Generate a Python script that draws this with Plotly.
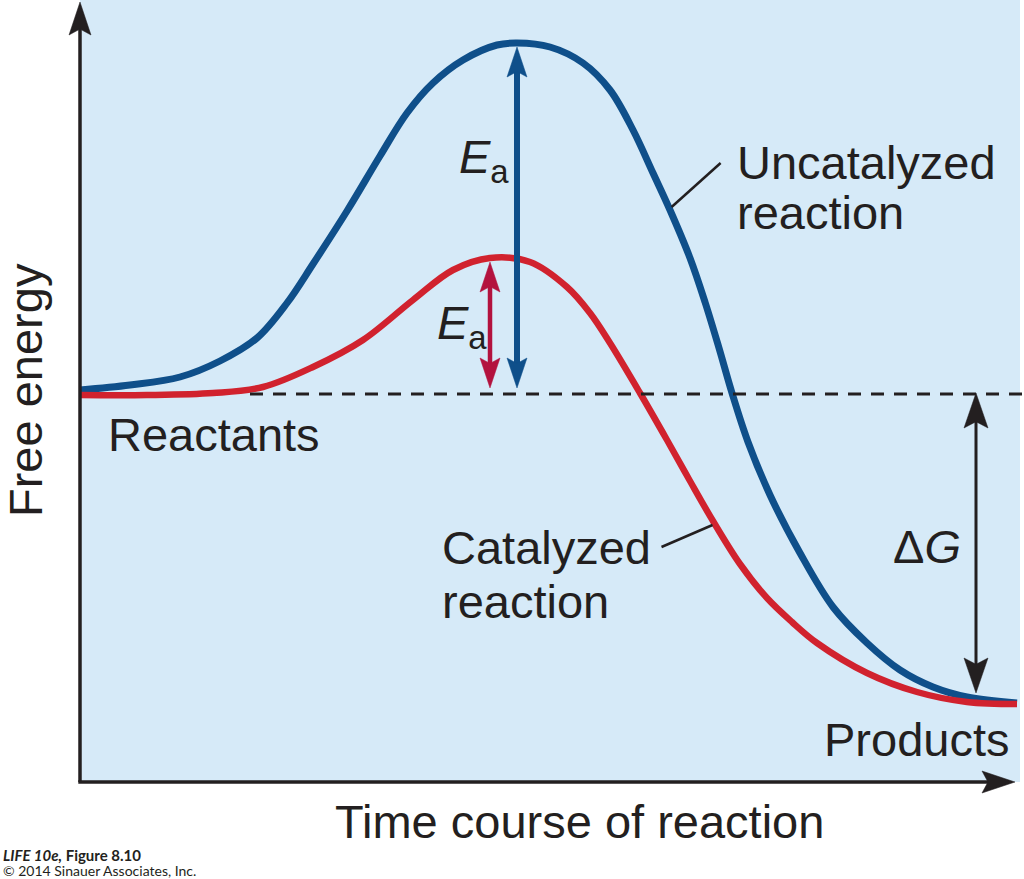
import numpy as np
import plotly.graph_objects as go

# ---------------- data (arbitrary units: time course vs free energy) ----------------
uncat_time = [0, 50, 100, 140, 177, 207, 233, 267, 300, 327, 353, 383, 417, 437, 470, 503, 530,
              553, 573, 590, 610, 625, 639, 652, 668, 690, 720, 753, 787, 820, 853, 887, 937]
uncat_energy = [392, 397, 405, 421, 444, 479, 518, 571, 626, 669, 699, 722, 737, 739, 735, 719, 692,
                652, 609, 572, 524, 480, 434, 389, 340, 287, 229, 175, 139, 112, 95, 85, 79]

cat_time = [0, 67, 133, 183, 233, 283, 333, 373, 410, 450, 487, 510, 530, 560, 587, 610, 633,
            660, 687, 712, 737, 787, 837, 887, 937]
cat_energy = [387, 387, 389, 395, 415, 442, 482, 512, 524, 520, 495, 469, 439, 389, 342, 301, 261,
              218, 184, 160, 139, 109, 90, 80, 78]

reactant_level = 388
product_level = 80
dG_time = 896

# ---------------- styling ----------------
BG = "#d6eaf8"
BLUE = "#0f4f8a"
RED = "#d1222e"
RED_ARROW = "#b3123e"
INK = "#231f20"
FONT = "Liberation Sans, Arial, Helvetica, sans-serif"

X0, X1 = -80, 944    # 1 unit = 1 px
Y0, Y1 = -97, 782

fig = go.Figure()

fig.add_trace(go.Scatter(x=uncat_time, y=uncat_energy, mode="lines",
                         line=dict(color=BLUE, width=7, shape="spline", smoothing=1.0),
                         hoverinfo="skip", showlegend=False))
fig.add_trace(go.Scatter(x=cat_time, y=cat_energy, mode="lines",
                         line=dict(color=RED, width=6.5, shape="spline", smoothing=1.0),
                         hoverinfo="skip", showlegend=False))

shapes = []
# plot background
shapes.append(dict(type="rect", xref="x", yref="y", x0=0, x1=940, y0=0, y1=Y1,
                   fillcolor=BG, line=dict(width=0), layer="below"))
# dashed reactant level
shapes.append(dict(type="line", xref="x", yref="y", x0=170, x1=944, y0=reactant_level, y1=reactant_level,
                   line=dict(color=INK, width=3, dash="13px,10px"), layer="above"))


def arrow_head(tx, ty, dx, dy, length, half, color, notch=0.18):
    bx, by = tx - dx * length, ty - dy * length
    nx, ny = -dy, dx
    p1 = (bx + nx * half, by + ny * half)
    p2 = (tx - dx * length * (1 - notch), ty - dy * length * (1 - notch))
    p3 = (bx - nx * half, by - ny * half)
    path = (f"M {tx},{ty} L {p1[0]},{p1[1]} L {p2[0]},{p2[1]} "
            f"L {p3[0]},{p3[1]} Z")
    return dict(type="path", xref="x", yref="y", path=path, fillcolor=color,
                line=dict(color=color, width=0.5), layer="above")


def double_arrow(x, y_low, y_high, width, color, length, half):
    shapes.append(dict(type="line", xref="x", yref="y", x0=x, x1=x,
                       y0=y_low + length * 0.7, y1=y_high - length * 0.7,
                       line=dict(color=color, width=width), layer="above"))
    shapes.append(arrow_head(x, y_high, 0, 1, length, half, color))
    shapes.append(arrow_head(x, y_low, 0, -1, length, half, color))


# axes with arrowheads
shapes.append(dict(type="line", xref="x", yref="y", x0=0, x1=0, y0=0, y1=Y1 - 25,
                   line=dict(color=INK, width=3.5), layer="above"))
shapes.append(arrow_head(0, Y1 - 2, 0, 1, 33, 11, INK))
shapes.append(dict(type="line", xref="x", yref="y", x0=-1.7, x1=910, y0=0, y1=0,
                   line=dict(color=INK, width=3.5), layer="above"))
shapes.append(arrow_head(935, 0, 1, 0, 33, 11, INK))

# activation energy arrows
ib = int(np.argmax(uncat_energy))
ir = int(np.argmax(cat_energy))
double_arrow(uncat_time[ib], reactant_level + 6, uncat_energy[ib] - 4, 6, BLUE, 30, 10)
double_arrow(cat_time[ir], reactant_level + 6, cat_energy[ir] - 4, 4.5, RED_ARROW, 30, 10)
# free energy change arrow
double_arrow(dG_time, product_level + 9, reactant_level + 1, 3, INK, 35, 12)

# leader lines from labels to curves
desc_b = slice(ib, None)
e_b = 575
t_b = float(np.interp(e_b, uncat_energy[desc_b][::-1], uncat_time[desc_b][::-1]))
shapes.append(dict(type="line", xref="x", yref="y", x0=t_b + 3, y0=e_b, x1=t_b + 52, y1=e_b + 44,
                   line=dict(color=INK, width=2.5), layer="above"))
desc_r = slice(ir, None)
e_r = 257
t_r = float(np.interp(e_r, cat_energy[desc_r][::-1], cat_time[desc_r][::-1]))
shapes.append(dict(type="line", xref="x", yref="y", x0=t_r - 3, y0=e_r, x1=t_r - 54, y1=e_r - 22,
                   line=dict(color=INK, width=2.5), layer="above"))

fig.update_layout(shapes=shapes)

ann = []


def label(text, x, y, size=47, xanchor="left", **kw):
    ann.append(dict(text=text, x=x, y=y, xref="x", yref="y", showarrow=False,
                    xanchor=xanchor, yanchor="middle",
                    font=dict(family=kw.pop("family", FONT), size=size, color=INK), **kw))


label("Uncatalyzed", 655, 620)
label("reaction", 655, 570)
label("Catalyzed", 360, 235)
label("reaction", 360, 181)
label("Reactants", 26, 348)
label("Products", 742, 43)
label("<i>E</i><sub>a</sub>", 377, 622)
label("<i>E</i><sub>a</sub>", 355, 456)
label("Δ<i>G</i>", 847, 236, xanchor="center")
label("Time course of reaction", 499, -39, xanchor="center")
label("Free energy", -55, 392, xanchor="center", textangle=-90)
label("<b><i>LIFE 10e,</i> Figure 8.10</b>", -79, -73, size=15, family="Lato, Open Sans, sans-serif")
label("© 2014 Sinauer Associates, Inc.", -79, -88, size=14, family="Lato, Open Sans, sans-serif")

fig.update_layout(
    annotations=ann,
    width=1024, height=879,
    margin=dict(l=0, r=0, t=0, b=0),
    paper_bgcolor="white", plot_bgcolor="white",
    xaxis=dict(range=[X0, X1], visible=False, fixedrange=True),
    yaxis=dict(range=[Y0, Y1], visible=False, fixedrange=True),
    showlegend=False,
)

fig.write_html("out.html", config={"displayModeBar": False},
               post_script="document.body.style.margin='0';document.body.style.overflow='hidden';")
